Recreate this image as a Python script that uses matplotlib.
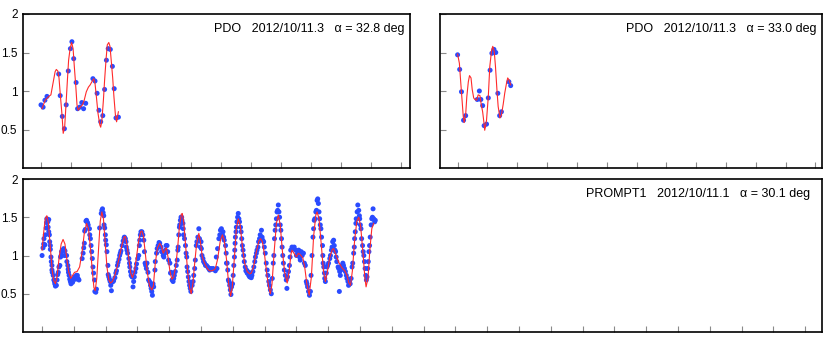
import matplotlib
matplotlib.use("Agg")
import matplotlib.pyplot as plt

plt.rcParams['font.family'] = ['Liberation Sans', 'DejaVu Sans']

# ---- panel labels
label_a = "PDO   2012/10/11.3   \u03b1 = 32.8 deg"
label_b = "PDO   2012/10/11.3   \u03b1 = 33.0 deg"
label_c = "PROMPT1   2012/10/11.1   \u03b1 = 30.1 deg"

# ---- top left panel (PDO, 32.8 deg)
a_x = [0.00, 0.07, 0.13, 0.20, 0.59, 0.64, 0.71, 0.78, 0.84, 0.91, 0.98, 1.03,
       1.09, 1.17, 1.22, 1.29, 1.36, 1.42, 1.49, 1.73, 1.80, 1.87, 1.93, 1.99,
       2.06, 2.12, 2.18, 2.24, 2.31, 2.38, 2.44, 2.50, 2.58]
a_y = [0.82, 0.79, 0.88, 0.93, 1.22, 0.94, 0.67, 0.51, 0.82, 1.26, 1.55, 1.64,
       1.42, 1.11, 0.77, 0.79, 0.85, 0.77, 0.84, 1.16, 1.13, 0.97, 0.75, 0.60,
       0.68, 1.02, 1.40, 1.55, 1.54, 1.32, 1.03, 0.65, 0.66]
a_fit_x = [0.03, 0.14, 0.26, 0.33, 0.40, 0.47, 0.51, 0.56, 0.60, 0.64, 0.70,
           0.74, 0.79, 0.83, 0.88, 0.92, 0.97, 1.02, 1.07, 1.11, 1.16, 1.20,
           1.24, 1.31, 1.38, 1.44, 1.51, 1.58, 1.64, 1.71, 1.76, 1.80, 1.84,
           1.90, 1.96, 1.99, 2.03, 2.08, 2.12, 2.17, 2.21, 2.26, 2.30, 2.34,
           2.39, 2.43, 2.48, 2.52, 2.56, 2.58]
a_fit_y = [0.77, 0.88, 0.93, 0.95, 1.10, 1.25, 1.28, 1.26, 1.17, 0.97, 0.69,
           0.45, 0.54, 0.80, 1.14, 1.40, 1.55, 1.63, 1.55, 1.32, 1.06, 0.82,
           0.75, 0.79, 0.82, 0.88, 0.99, 1.05, 1.08, 1.13, 1.16, 1.10, 0.95,
           0.71, 0.56, 0.53, 0.62, 0.88, 1.14, 1.42, 1.60, 1.63, 1.58, 1.40,
           1.17, 0.93, 0.69, 0.60, 0.69, 0.73]

# ---- top right panel (PDO, 33.0 deg)
b_x = [0.00, 0.07, 0.13, 0.20, 0.27, 0.66, 0.73, 0.78, 0.84, 0.89, 0.97, 1.03,
       1.09, 1.15, 1.22, 1.28, 1.35, 1.41, 1.47, 1.72, 1.78]
b_y = [1.47, 1.28, 0.99, 0.62, 0.68, 0.89, 1.00, 0.89, 0.81, 0.55, 0.57, 0.91,
       1.27, 1.49, 1.54, 1.50, 0.97, 0.68, 0.73, 1.12, 1.07]
b_fit_x = [0.00, 0.06, 0.10, 0.15, 0.19, 0.22, 0.27, 0.31, 0.36, 0.40, 0.45,
           0.49, 0.54, 0.58, 0.64, 0.69, 0.75, 0.79, 0.84, 0.88, 0.91, 0.97,
           1.03, 1.08, 1.14, 1.18, 1.23, 1.27, 1.32, 1.36, 1.42, 1.47, 1.53,
           1.58, 1.64, 1.68, 1.73, 1.78]
b_fit_y = [1.48, 1.36, 1.14, 0.88, 0.67, 0.59, 0.69, 0.93, 1.12, 1.20, 1.17,
           1.02, 0.91, 0.89, 0.88, 0.95, 0.94, 0.83, 0.73, 0.60, 0.49, 0.62,
           0.93, 1.32, 1.53, 1.58, 1.51, 1.32, 1.01, 0.80, 0.65, 0.69, 0.83,
           0.97, 1.10, 1.17, 1.14, 1.08]

# ---- bottom panel (PROMPT1, 30.1 deg)
c_x = [0.00, 0.03, 0.05, 0.06, 0.09, 0.10, 0.13, 0.14, 0.15, 0.18, 0.19, 0.21,
       0.21, 0.23, 0.24, 0.26, 0.26, 0.28, 0.29, 0.31, 0.31, 0.32, 0.35, 0.37,
       0.39, 0.40, 0.42, 0.45, 0.47, 0.49, 0.51, 0.53, 0.56, 0.58, 0.60, 0.61,
       0.63, 0.65, 0.68, 0.71, 0.72, 0.77, 0.78, 0.81, 0.82, 0.83, 0.85, 0.87,
       0.89, 0.91, 0.94, 0.96, 1.00, 1.03, 1.05, 1.08, 1.11, 1.13, 1.16, 1.26,
       1.29, 1.31, 1.33, 1.34, 1.36, 1.38, 1.40, 1.43, 1.45, 1.49, 1.50, 1.52,
       1.54, 1.56, 1.58, 1.60, 1.62, 1.65, 1.66, 1.69, 1.71, 1.81, 1.86, 1.88,
       1.90, 1.92, 1.94, 1.95, 1.97, 1.99, 2.00, 2.02, 2.04, 2.07, 2.08, 2.10,
       2.12, 2.14, 2.16, 2.18, 2.20, 2.23, 2.25, 2.29, 2.32, 2.34, 2.37, 2.39,
       2.42, 2.44, 2.46, 2.48, 2.52, 2.55, 2.58,
       2.59, 2.62, 2.64, 2.65, 2.67, 2.69, 2.73, 2.75, 2.76, 2.78, 2.80, 2.83,
       2.86, 2.88, 2.90, 2.92, 2.95, 2.97, 3.01, 3.04, 3.06, 3.07, 3.09, 3.11,
       3.14, 3.17, 3.20, 3.22, 3.24, 3.26, 3.28, 3.30, 3.33, 3.35, 3.38, 3.41,
       3.43, 3.45, 3.47, 3.49, 3.51, 3.55, 3.56, 3.60, 3.62, 3.65, 3.68, 3.70,
       3.74, 3.76, 3.81, 3.83, 3.86, 3.88, 3.90, 3.93, 3.95, 3.98, 4.02, 4.04,
       4.06, 4.09, 4.12, 4.14, 4.16, 4.19, 4.22, 4.25, 4.27, 4.28, 4.30, 4.32,
       4.33, 4.35, 4.37, 4.39, 4.40, 4.43, 4.44, 4.45, 4.48, 4.51, 4.53, 4.55,
       4.56, 4.58, 4.60, 4.62, 4.64, 4.66, 4.68, 4.72, 4.75, 4.77, 4.80, 4.82,
       4.85, 4.87, 4.90, 4.93, 4.95, 4.98, 5.00, 5.01, 5.03, 5.06, 5.08, 5.11,
       5.14, 5.17, 5.21, 5.24, 5.27, 5.31, 5.35, 5.38,
       5.45, 5.48, 5.50, 5.52, 5.56, 5.59, 5.61, 5.64, 5.67, 5.69, 5.71, 5.73,
       5.77, 5.79, 5.80, 5.82, 5.84, 5.86, 5.88, 5.90, 5.92, 5.94, 5.96, 5.99,
       6.01, 6.03, 6.05, 6.06, 6.07, 6.08, 6.10, 6.11, 6.13, 6.15, 6.17, 6.19,
       6.21, 6.24, 6.26, 6.28, 6.30, 6.32, 6.34, 6.36, 6.39, 6.41, 6.43, 6.45,
       6.47, 6.50, 6.53, 6.55, 6.58, 6.60, 6.63, 6.66, 6.69, 6.71, 6.74, 6.76,
       6.79, 6.81, 6.84, 6.86, 6.90, 6.92, 6.94, 6.97, 6.99, 7.02, 7.05, 7.08,
       7.10, 7.13, 7.15, 7.18, 7.21, 7.24, 7.27, 7.29, 7.31, 7.33, 7.35, 7.37,
       7.39, 7.41, 7.43, 7.45, 7.47, 7.49, 7.51, 7.53, 7.55, 7.57, 7.59, 7.62,
       7.65, 7.68, 7.70, 7.72, 7.75, 7.78, 7.80, 7.82, 7.86, 7.89, 7.93, 7.97,
       8.00, 8.04, 8.07, 8.10, 8.12, 8.15, 8.18, 8.22, 8.25,
       8.28, 8.31, 8.33, 8.35, 8.38, 8.41, 8.44, 8.46, 8.49, 8.52, 8.54, 8.56,
       8.58, 8.61, 8.63, 8.65, 8.67, 8.69, 8.71, 8.73, 8.75, 8.77, 8.79, 8.82,
       8.83, 8.84, 8.86, 8.88, 8.89, 8.91, 8.94, 8.96, 8.98, 9.01, 9.05, 9.07,
       9.10, 9.12, 9.14, 9.17, 9.19, 9.21, 9.23, 9.25, 9.27, 9.31, 9.33, 9.35,
       9.36, 9.38, 9.40, 9.43, 9.46, 9.48, 9.51, 9.54, 9.57, 9.59, 9.62, 9.64,
       9.67, 9.69, 9.72, 9.75, 9.77, 9.80, 9.82, 9.83, 9.85, 9.87, 9.88, 9.91,
       9.93, 9.96, 9.98, 9.99, 10.01, 10.03, 10.05, 10.08, 10.10, 10.12, 10.14,
       10.16, 10.18, 10.20, 10.22, 10.24, 10.26, 10.28, 10.30, 10.32, 10.35,
       10.37, 10.39, 10.41, 10.43, 10.46, 10.48]
c_y = [1.00, 1.10, 1.15, 1.22, 1.14, 1.27, 1.36, 1.43, 1.48, 1.44, 1.37, 1.47,
       1.31, 1.27, 1.18, 1.13, 1.08, 0.98, 0.92, 0.87, 0.81, 0.78, 0.74, 0.68,
       0.66, 0.63, 0.60, 0.61, 0.68, 0.75, 0.78, 0.85, 0.87, 0.98, 1.00, 1.05,
       1.00, 1.07, 1.09, 1.00, 1.06, 1.00, 0.92, 0.87, 0.82, 0.78, 0.74, 0.69,
       0.66, 0.63, 0.68, 0.65, 0.70, 0.72, 0.69, 0.74, 0.74, 0.70, 0.68, 0.96,
       1.03, 1.10, 1.16, 1.32, 1.34, 1.45, 1.46, 1.43, 1.40, 1.35, 1.27, 1.22,
       1.13, 1.05, 0.96, 0.85, 0.77, 0.68, 0.53, 0.52, 0.56, 1.36, 1.55, 1.59,
       1.61, 1.56, 1.52, 1.40, 1.36, 1.27, 1.20, 1.14, 1.05, 0.87, 0.75, 0.72,
       0.69, 0.66, 0.61, 0.54, 0.65, 0.66, 0.67, 0.71, 0.77, 0.80, 0.87, 0.91,
       0.95, 1.00, 1.03, 1.06, 1.13, 1.19, 1.23,
       1.24, 1.22, 1.18, 1.11, 1.07, 1.03, 0.96, 0.90, 0.85, 0.79, 0.74, 0.72,
       0.59, 0.66, 0.72, 0.78, 0.83, 0.89, 0.96, 1.00, 1.13, 1.20, 1.27, 1.31,
       1.31, 1.27, 1.20, 1.05, 0.90, 0.87, 0.83, 0.90, 0.78, 0.68, 0.66, 0.61,
       0.57, 0.53, 0.48, 0.63, 0.59, 0.81, 0.92, 1.03, 1.09, 1.13, 1.17, 1.16,
       1.11, 1.05, 1.00, 0.98, 1.03, 1.07, 1.13, 1.13, 1.05, 0.94, 0.90, 0.77,
       0.78, 0.68, 0.66, 0.70, 0.74, 0.79, 0.87, 0.94, 1.07, 1.11, 1.27, 1.37,
       1.40, 1.46, 1.50, 1.50, 1.46, 1.42, 1.35, 1.27, 1.22, 1.13, 1.03, 0.98,
       0.85, 0.79, 0.72, 0.66, 0.61, 0.57, 0.53, 0.61, 0.66, 0.74, 0.83, 0.94,
       1.13, 1.18, 1.24, 1.35, 1.22, 1.11, 1.18, 1.09, 1.00, 0.96, 0.92, 0.90,
       0.87, 0.87, 0.85, 0.83, 0.81, 0.83, 0.82, 0.83,
       0.80, 0.98, 0.83, 1.09, 1.22, 1.27, 1.33, 1.35, 1.27, 1.31, 1.24, 1.20,
       1.13, 1.03, 0.90, 0.90, 0.81, 0.68, 0.66, 0.61, 0.55, 0.49, 0.59, 0.63,
       0.74, 0.87, 0.98, 1.07, 1.16, 1.24, 1.31, 1.37, 1.44, 1.50, 1.55, 1.48,
       1.44, 1.37, 1.31, 1.22, 1.13, 1.07, 1.00, 0.92, 0.85, 0.80, 0.81, 0.77,
       0.79, 0.74, 0.72, 0.77, 0.71, 0.74, 0.79, 0.85, 0.92, 0.98, 1.03, 1.07,
       1.11, 1.18, 1.22, 1.27, 1.33, 1.24, 1.20, 1.18, 1.11, 1.03, 0.90, 0.81,
       0.74, 0.66, 0.61, 0.55, 0.50, 0.70, 0.90, 1.00, 1.22, 1.33, 1.40, 1.48,
       1.57, 1.59, 1.66, 1.57, 1.50, 1.40, 1.33, 1.22, 1.11, 1.00, 0.90, 0.81,
       0.74, 0.68, 0.57, 0.72, 0.79, 0.87, 0.98, 1.07, 1.11, 1.09, 1.11, 1.07,
       1.00, 1.03, 1.07, 0.98, 0.94, 1.05, 1.00, 1.03, 0.90,
       0.87, 0.66, 0.63, 0.59, 0.53, 0.48, 0.53, 0.74, 1.00, 1.24, 1.35, 1.46,
       1.48, 1.57, 1.59, 1.72, 1.74, 1.68, 1.57, 1.48, 1.40, 1.35, 1.24, 1.13,
       1.00, 0.90, 0.85, 0.77, 0.70, 0.66, 0.77, 0.85, 0.87, 0.90, 0.96, 1.00,
       1.07, 1.11, 1.18, 1.20, 1.13, 1.07, 1.05, 0.98, 0.92, 0.85, 0.83, 0.53,
       0.79, 0.74, 0.81, 0.87, 0.90, 0.87, 0.83, 0.79, 0.74, 0.70, 0.66, 0.61,
       0.66, 0.63, 0.70, 0.85, 0.90, 1.03, 1.11, 1.22, 1.31, 1.42, 1.48, 1.57,
       1.66, 1.59, 1.52, 1.48, 1.40, 1.35, 1.22, 1.13, 1.05, 1.00, 0.92,
       0.83, 0.74, 0.68, 0.72, 0.83, 0.92, 1.05, 1.13, 1.24, 1.40,
       1.48, 1.50, 1.61, 1.48, 1.44, 1.46]
c_fit_x = [0.00, 0.05, 0.10, 0.15, 0.20, 0.26, 0.32, 0.37, 0.42, 0.47, 0.53,
           0.60, 0.66, 0.72, 0.78, 0.84, 0.90, 0.96, 1.02, 1.10, 1.18, 1.26,
           1.33, 1.40, 1.46, 1.52, 1.58, 1.63, 1.67, 1.72, 1.78, 1.83, 1.88,
           1.93, 1.98, 2.04, 2.10, 2.15, 2.21, 2.28, 2.36, 2.44, 2.52, 2.58,
           2.62, 2.67, 2.73, 2.79, 2.84, 2.90, 2.97, 3.04, 3.10, 3.14, 3.19,
           3.25, 3.31, 3.38, 3.45, 3.50, 3.56, 3.63, 3.70, 3.76, 3.81, 3.87,
           3.91, 3.96, 4.02, 4.08, 4.14, 4.20, 4.26, 4.32, 4.38, 4.41, 4.46,
           4.52, 4.58, 4.64, 4.69, 4.74, 4.80, 4.86, 4.93, 4.98, 5.04, 5.11,
           5.18, 5.26, 5.33, 5.40, 5.45, 5.52, 5.60, 5.67, 5.73, 5.80, 5.87,
           5.93, 5.98, 6.05, 6.11, 6.17, 6.23, 6.30, 6.37, 6.45, 6.53, 6.58,
           6.65, 6.74, 6.82, 6.87, 6.93, 7.00, 7.07, 7.13, 7.18, 7.23, 7.30,
           7.37, 7.43, 7.49, 7.56, 7.63, 7.71, 7.77, 7.83, 7.86, 7.92, 8.00,
           8.06, 8.12, 8.20, 8.26, 8.33, 8.40, 8.47, 8.54, 8.61, 8.65, 8.71,
           8.78, 8.85, 8.91, 8.97, 9.05, 9.13, 9.17, 9.25, 9.33, 9.43, 9.52,
           9.59, 9.65, 9.70, 9.76, 9.83, 9.90, 9.96, 10.02, 10.10, 10.15,
           10.19, 10.25, 10.31, 10.37, 10.43]
c_fit_y = [1.07, 1.30, 1.48, 1.52, 1.42, 1.10, 0.80, 0.67, 0.63, 0.72, 0.95,
           1.15, 1.21, 1.15, 0.95, 0.78, 0.70, 0.74, 0.78, 0.79, 0.85, 1.05,
           1.30, 1.42, 1.35, 1.10, 0.80, 0.58, 0.54, 0.70, 1.10, 1.45, 1.57,
           1.48, 1.20, 0.85, 0.68, 0.64, 0.66, 0.73, 0.85, 1.00, 1.15, 1.24,
           1.25, 1.15, 0.95, 0.77, 0.71, 0.78, 0.98, 1.20, 1.31, 1.32, 1.25,
           1.02, 0.78, 0.60, 0.55, 0.60, 0.90, 1.10, 1.16, 1.12, 1.03, 1.08,
           1.10, 0.98, 0.80, 0.69, 0.72, 0.85, 1.08, 1.38, 1.54, 1.55, 1.42,
           1.10, 0.78, 0.58, 0.50, 0.62, 0.90, 1.15, 1.29, 1.18, 0.98, 0.90,
           0.84, 0.80, 0.80, 0.81, 0.83, 0.95, 1.18, 1.27, 1.20, 0.95, 0.62,
           0.47, 0.58, 0.98, 1.35, 1.48, 1.40, 1.12, 0.90, 0.79, 0.76, 0.77,
           0.85, 1.05, 1.19, 1.22, 1.18, 1.00, 0.75, 0.58, 0.50, 0.62, 1.05,
           1.42, 1.53, 1.40, 1.05, 0.78, 0.64, 0.80, 1.02, 1.07, 1.03, 0.98,
           1.03, 1.01, 0.97, 0.85, 0.62, 0.48, 0.72, 1.25, 1.53, 1.57, 1.48,
           1.15, 0.80, 0.66, 0.78, 0.98, 1.08, 1.09, 1.00, 0.91, 0.84, 0.80,
           0.74, 0.64, 0.61, 0.80, 1.20, 1.45, 1.50, 1.38, 1.00, 0.72,
           0.59, 0.70, 1.08, 1.35, 1.42]

point_color = '#2a4bff'
fit_color = '#ff2a2a'

fig = plt.figure(figsize=(8.30, 3.39), dpi=100)

ax_a = fig.add_axes([23 / 830, 1 - 168 / 339, 387 / 830, 154 / 339])
ax_b = fig.add_axes([440 / 830, 1 - 168 / 339, 382 / 830, 154 / 339])
ax_c = fig.add_axes([23 / 830, 1 - 332 / 339, 799 / 830, 153 / 339])

panels = [
    (ax_a, a_x, a_y, a_fit_x, a_fit_y, label_a, (-0.6, 12.3), 13, True),
    (ax_b, b_x, b_y, b_fit_x, b_fit_y, label_b, (-0.59, 12.22), 13, False),
    (ax_c, c_x, c_y, c_fit_x, c_fit_y, label_c, (-0.6, 24.53), 25, True),
]

for ax, px, py, fx, fy, label, xlim, nticks, show_y in panels:
    ax.scatter(px, py, s=13, color=point_color, edgecolors='none', zorder=2)
    ax.plot(fx, fy, color=fit_color, lw=0.8, zorder=3)
    ax.set_xlim(*xlim)
    ax.set_ylim(0, 2)
    ax.set_xticks(range(nticks))
    ax.set_yticks([0.5, 1, 1.5, 2])
    ax.set_xticklabels([])
    if show_y:
        ax.set_yticklabels(['0.5', '1', '1.5', '2'])
    else:
        ax.set_yticklabels([])
    ax.tick_params(direction='in', length=4.5, width=0.8, color='#8a8a8a',
                   labelsize=8.5, pad=4)
    ax.tick_params(axis='y', colors='#8a8a8a', labelcolor='black')
    for sp in ax.spines.values():
        sp.set_linewidth(1.2)
        sp.set_color('black')
    h = ax.get_position().height * 339
    ax.text(0.985, 1 - 15 / h, label, transform=ax.transAxes, ha='right',
            va='center', fontsize=9)

plt.savefig('out.png', dpi=100)
